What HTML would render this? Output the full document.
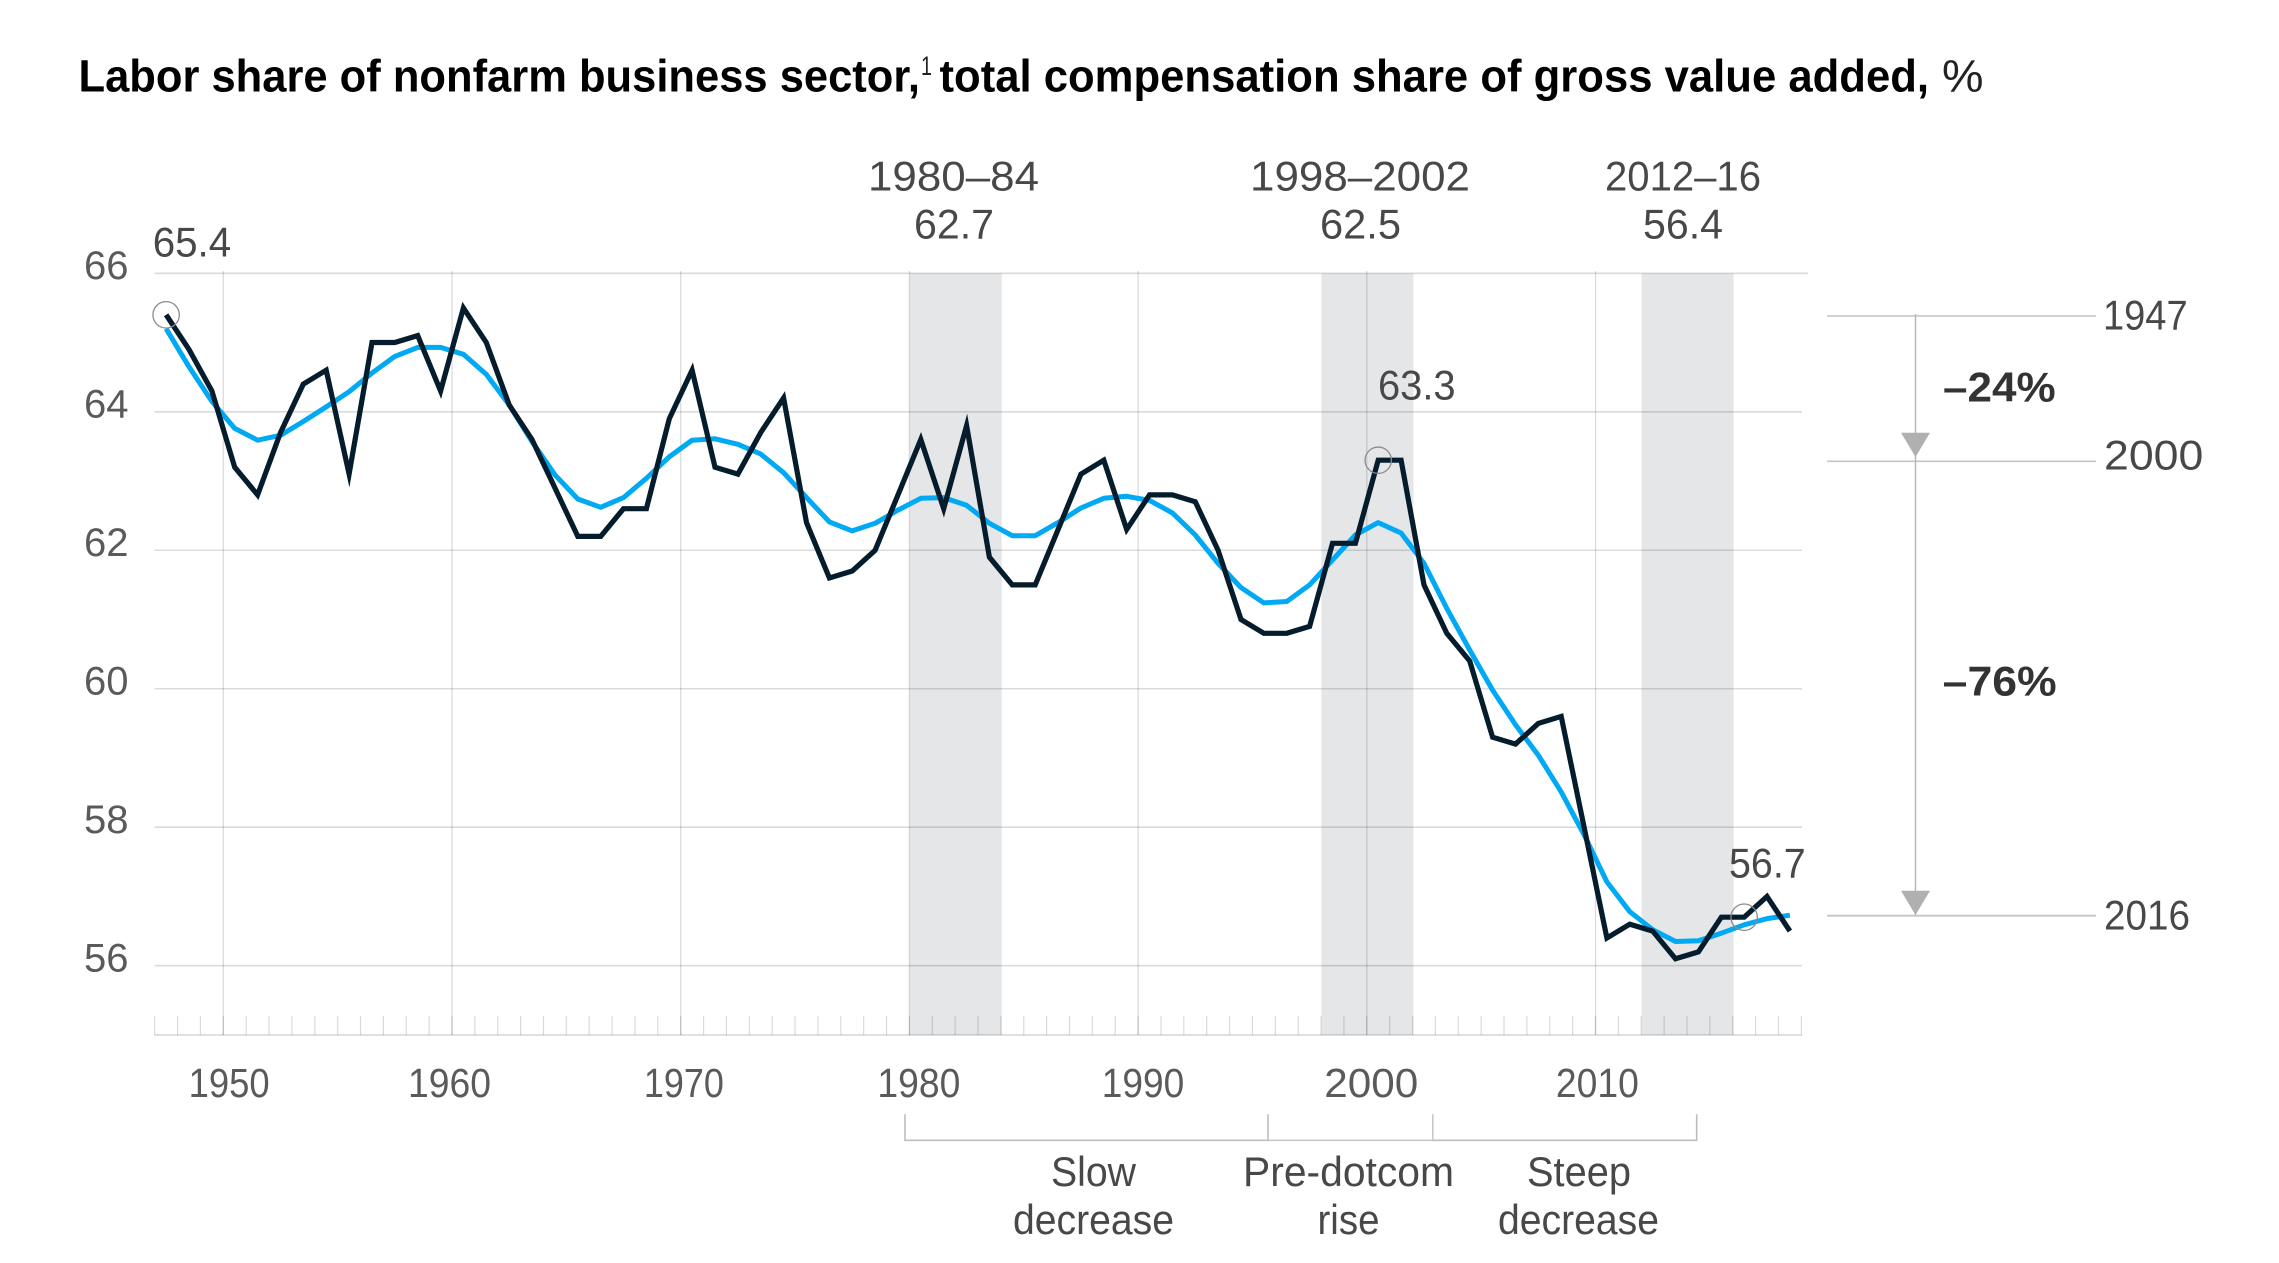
<!DOCTYPE html>
<html lang="en">
<head>
<meta charset="utf-8">
<title>Labor share of nonfarm business sector</title>
<style>
html,body{margin:0;padding:0;background:#fff;}
svg{display:block;}
text{font-family:"Liberation Sans",sans-serif;}
.lbl{font-size:42px;fill:#484848;}
.tick{font-size:41px;fill:#5a5a5a;}
.pct{font-size:42px;font-weight:700;fill:#333;}
.ttl{font-size:45px;font-weight:700;fill:#000;}
</style>
</head>
<body>
<svg id="chart" xmlns="http://www.w3.org/2000/svg" width="2279" height="1263" viewBox="0 0 2279 1263">
  <g id="bands"></g>
  <g id="grid"></g>
  <g id="ticks"></g>
  <g id="ylabels"></g>
  <g id="xlabels"></g>
  <g id="series"></g>
  <g id="markers"></g>

  <g>
    <text class="ttl" x="78.5" y="91.7" textLength="841.5" lengthAdjust="spacingAndGlyphs">Labor share of nonfarm business sector,</text>
    <text x="921" y="75" font-size="27" fill="#222" textLength="11" lengthAdjust="spacingAndGlyphs">1</text>
    <text class="ttl" x="939.5" y="91.7" textLength="989.5" lengthAdjust="spacingAndGlyphs">total compensation share of gross value added,</text>
    <text x="1942" y="91.7" font-size="45" fill="#222" textLength="41.5" lengthAdjust="spacingAndGlyphs">%</text>
  </g>

  <g>
    <text class="lbl" x="868" y="190.7" textLength="171" lengthAdjust="spacingAndGlyphs">1980–84</text>
    <text class="lbl" x="914" y="238.3" textLength="80" lengthAdjust="spacingAndGlyphs">62.7</text>
    <text class="lbl" x="1250" y="190.7" textLength="220" lengthAdjust="spacingAndGlyphs">1998–2002</text>
    <text class="lbl" x="1320" y="238.3" textLength="81" lengthAdjust="spacingAndGlyphs">62.5</text>
    <text class="lbl" x="1605" y="190.7" textLength="156" lengthAdjust="spacingAndGlyphs">2012–16</text>
    <text class="lbl" x="1643" y="238.3" textLength="80" lengthAdjust="spacingAndGlyphs">56.4</text>
  </g>

  <g>
    <text class="lbl" x="152.7" y="256.7" textLength="78.5" lengthAdjust="spacingAndGlyphs">65.4</text>
    <text class="lbl" x="1378" y="399.3" textLength="77.6" lengthAdjust="spacingAndGlyphs">63.3</text>
    <text class="lbl" x="1729" y="877.3" textLength="76.7" lengthAdjust="spacingAndGlyphs">56.7</text>
  </g>

  <g fill="none">
    <line x1="1827" y1="316" x2="2096" y2="316" stroke="#c4c4c4" stroke-width="1.6"/>
    <line x1="1827" y1="461.3" x2="2096" y2="461.3" stroke="#c4c4c4" stroke-width="1.6"/>
    <line x1="1827" y1="915.7" x2="2096" y2="915.7" stroke="#c4c4c4" stroke-width="1.8"/>
    <line x1="1915.5" y1="314" x2="1915.5" y2="915" stroke="#b8b8b8" stroke-width="1.5"/>
    <polygon points="1901,432.7 1930,432.7 1915.5,457" fill="#b0b0b0"/>
    <polygon points="1901,890.7 1930,890.7 1915.5,915" fill="#b0b0b0"/>
    <text class="lbl" x="2103" y="329.3" textLength="84.6" lengthAdjust="spacingAndGlyphs">1947</text>
    <text class="lbl" x="2104" y="469.3" textLength="99.3" lengthAdjust="spacingAndGlyphs">2000</text>
    <text class="lbl" x="2104" y="929.3" textLength="86" lengthAdjust="spacingAndGlyphs">2016</text>
    <text class="pct" x="1943" y="401.7" textLength="112.6" lengthAdjust="spacingAndGlyphs">–24%</text>
    <text class="pct" x="1942.7" y="695.3" textLength="114" lengthAdjust="spacingAndGlyphs">–76%</text>
  </g>

  <g>
    <polyline points="905,1114.3 905,1140.3 1268,1140.3 1268,1114.3" fill="none" stroke="#bdbdbd" stroke-width="1.6"/>
    <polyline points="1268,1140.3 1432.8,1140.3 1432.8,1114.3" fill="none" stroke="#c8c8c8" stroke-width="1.6"/>
    <polyline points="1432.8,1140.3 1696.7,1140.3 1696.7,1114.3" fill="none" stroke="#bdbdbd" stroke-width="1.6"/>
    <text class="lbl" x="1051" y="1186" textLength="85" lengthAdjust="spacingAndGlyphs">Slow</text>
    <text class="lbl" x="1013" y="1234" textLength="161" lengthAdjust="spacingAndGlyphs">decrease</text>
    <text class="lbl" x="1243" y="1186" textLength="211" lengthAdjust="spacingAndGlyphs">Pre-dotcom</text>
    <text class="lbl" x="1317.5" y="1234" textLength="62" lengthAdjust="spacingAndGlyphs">rise</text>
    <text class="lbl" x="1527" y="1186" textLength="104" lengthAdjust="spacingAndGlyphs">Steep</text>
    <text class="lbl" x="1498" y="1234" textLength="161" lengthAdjust="spacingAndGlyphs">decrease</text>
  </g>
</svg>

<script>
// ---- chart data ----
const firstYear = 1947;
const laborShare = [
  65.4,64.9,64.3,63.2,62.8,63.7,64.4,64.6,63.1,65.0,
  65.0,65.1,64.3,65.5,65.0,64.1,63.6,62.9,62.2,62.2,
  62.6,62.6,63.9,64.6,63.2,63.1,63.7,64.2,62.4,61.6,
  61.7,62.0,62.8,63.6,62.6,63.8,61.9,61.5,61.5,62.3,
  63.1,63.3,62.3,62.8,62.8,62.7,62.0,61.0,60.8,60.8,
  60.9,62.1,62.1,63.3,63.3,61.5,60.8,60.4,59.3,59.2,
  59.5,59.6,58.0,56.4,56.6,56.5,56.1,56.2,56.7,56.7,
  57.0,56.5
];
const trendShare = [
  65.2,64.65,64.15,63.76,63.59,63.66,63.86,64.07,64.29,64.56,
  64.8,64.93,64.93,64.83,64.54,64.1,63.57,63.09,62.74,62.62,
  62.76,63.04,63.35,63.59,63.61,63.53,63.39,63.12,62.76,62.41,
  62.28,62.39,62.58,62.75,62.76,62.65,62.39,62.21,62.21,62.4,
  62.61,62.75,62.78,62.72,62.54,62.22,61.81,61.46,61.24,61.26,
  61.5,61.86,62.22,62.4,62.25,61.81,61.16,60.56,59.98,59.48,
  59.04,58.51,57.89,57.21,56.78,56.52,56.35,56.36,56.47,56.59,
  56.68,56.73
];
const yTickValues = [66,64,62,60,58,56];
const xTickYears = [1950,1960,1970,1980,1990,2000,2010];
const bandStartYears = [1980,1998,2012];
const bandEndYears = [1984,2002,2016];
const highlightYears = [1947,2000,2016];

// ---- layout (not data) ----
const xLabelNudge = [6.3,-2,3.7,10,5.4,5,2.4];
const xLabelWidth = [81,83,80,83,82.5,94,83];
const NS = 'http://www.w3.org/2000/svg';
const xScale = function (year) { return 223.3 + (year - 1950) * 22.87; };
const yScale = function (value) { return 273.3 + (66 - value) * 69.24; };
const axisY = 1035;
const tickTop = 1016;
const gridLeft = 154.5;
const gridRight = 1802;

function make(parentId, tag, attrs) {
  const el = document.createElementNS(NS, tag);
  Object.keys(attrs).forEach(function (k) { el.setAttribute(k, attrs[k]); });
  document.getElementById(parentId).appendChild(el);
  return el;
}

bandStartYears.forEach(function (start, i) {
  const el = make('bands', 'rect', {
    x: xScale(start) + 0.3, y: yScale(66),
    width: xScale(bandEndYears[i]) - xScale(start) + 0.6,
    height: axisY - yScale(66), fill: '#e5e6e8'
  });
  
  
});

yTickValues.forEach(function (v) {
  const el = make('grid', 'line', {
    x1: gridLeft, x2: v === 66 ? 1808 : gridRight, y1: yScale(v), y2: yScale(v),
    stroke: 'rgba(0,0,0,0.14)', 'stroke-width': 1.6
  });
  
  
  const t = make('ylabels', 'text', {
    x: 84, y: yScale(v) + 5.6, 'font-size': 39.5, fill: '#5a5a5a',
    textLength: 44.5, lengthAdjust: 'spacingAndGlyphs'
  });
  t.textContent = String(v);
  
  
});

xTickYears.forEach(function (yr, i) {
  const el = make('grid', 'line', {
    x1: xScale(yr), x2: xScale(yr), y1: 271, y2: axisY,
    stroke: 'rgba(0,0,0,0.14)', 'stroke-width': 1.3
  });
  
  
  const t = make('xlabels', 'text', {
    x: xScale(yr) + xLabelNudge[i] - xLabelWidth[i] / 2 - 0.5, y: 1097,
    textLength: xLabelWidth[i], lengthAdjust: 'spacingAndGlyphs'
  });
  t.setAttribute('class', 'tick');
  t.textContent = String(yr);
  
  
});

for (let yr = firstYear; yr <= firstYear + laborShare.length; yr++) {
  const el = make('ticks', 'line', {
    x1: xScale(yr), x2: xScale(yr), y1: tickTop, y2: axisY,
    stroke: 'rgba(0,0,0,0.14)', 'stroke-width': 1.2
  });
  
  
}
const axisLine = make('ticks', 'line', {
  x1: gridLeft, x2: gridRight, y1: axisY, y2: axisY,
  stroke: 'rgba(0,0,0,0.12)', 'stroke-width': 2
});



function linePoints(values) {
  return values.map(function (v, i) {
    return xScale(firstYear + i + 0.5).toFixed(1) + ',' + yScale(v).toFixed(1);
  }).join(' ');
}

const trendLine = make('series', 'polyline', {
  points: linePoints(trendShare), fill: 'none', stroke: '#00a9f4',
  'stroke-width': 5, 'stroke-linejoin': 'round'
});



const laborLine = make('series', 'polyline', {
  points: linePoints(laborShare), fill: 'none', stroke: '#051c2c',
  'stroke-width': 5.2, 'stroke-linejoin': 'miter', 'stroke-miterlimit': 6
});



highlightYears.forEach(function (yr) {
  const i = yr - firstYear;
  const el = make('markers', 'circle', {
    cx: xScale(yr + 0.5), cy: yScale(laborShare[i]), r: 13.2,
    fill: 'none', stroke: '#8c8c8c', 'stroke-width': 1.3
  });
  
  
});
</script>
</body>
</html>
